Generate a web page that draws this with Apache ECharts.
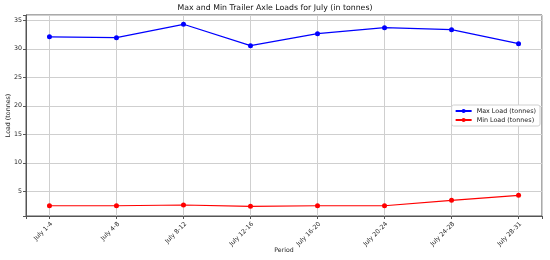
<!DOCTYPE html>
<html>
<head>
<meta charset="utf-8">
<script src="https://cdn.jsdelivr.net/npm/echarts@6/dist/echarts.min.js"></script>
<style>
  html, body { margin: 0; padding: 0; background: #fff; }
  #chart { width: 550px; height: 260px; }
</style>
</head>
<body>
<div id="chart"></div>
<script>
// periods on the x axis
const periods = ['July 1-4', 'July 4-8', 'July 8-12', 'July 12-16', 'July 16-20', 'July 20-24', 'July 24-28', 'July 28-31']
// loads in tonnes
const maxLoad = [32.1, 31.95, 34.3, 30.55, 32.65, 33.7, 33.35, 30.9]
const minLoad = [2.47, 2.47, 2.6, 2.37, 2.47, 2.47, 3.42, 4.3]
const yTicks = [5, 10, 15, 20, 25, 30, 35]

const font = 'DejaVu Sans'
const chart = echarts.init(document.getElementById('chart'))

const toPoints = arr => arr.map((v, i) => [i, v])

const option = {
  animation: false,
  textStyle: { fontFamily: font },
  title: {
    text: 'Max and Min Trailer Axle Loads for July (in tonnes)',
    left: 'center',
    top: -1,
    padding: [5, 5, 5, 23],
    textStyle: { fontSize: 7.8, fontWeight: 'normal', color: '#111', fontFamily: font }
  },
  grid: {
    left: 26, right: 8, top: 15, bottom: 44,
    outerBoundsMode: 'none',
    containLabel: false,
    show: true, borderColor: '#555', borderWidth: 1
  },
  legend: {
    orient: 'vertical',
    right: 10,
    top: 105,
    itemWidth: 16,
    itemHeight: 5,
    itemGap: 3,
    padding: [3, 4, 3, 3],
    borderColor: '#d0d0d0',
    borderWidth: 1,
    borderRadius: 2,
    backgroundColor: '#fff',
    textStyle: { fontSize: 6.4, color: '#222', fontFamily: font },
    data: ['Max Load (tonnes)', 'Min Load (tonnes)']
  },
  xAxis: {
    type: 'value',
    min: -0.35,
    max: 7.35,
    splitNumber: 8,
    name: 'Period',
    nameLocation: 'middle',
    nameGap: 31,
    nameMoveOverlap: false,
    nameTextStyle: { fontSize: 6.2, color: '#222' },
    axisLine: { show: true, onZero: false, lineStyle: { color: '#555' } },
    axisTick: {
      length: 3,
      lineStyle: { color: '#555' },
      interval: (i, v) => Number.isInteger(v)
    },
    axisLabel: {
      rotate: 45,
      fontSize: 6.2,
      color: '#222',
      margin: 5,
      verticalAlign: 'top',
      formatter: v => Number.isInteger(v) ? (periods[v] || '') : ''
    },
    splitLine: { show: true, lineStyle: { color: '#cfcfcf', width: 1 } }
  },
  yAxis: {
    type: 'value',
    min: 0.67,
    max: 35.93,
    splitNumber: 7,
    name: 'Load (tonnes)',
    nameLocation: 'middle',
    nameGap: 15,
    nameMoveOverlap: false,
    nameTextStyle: { fontSize: 6.3, color: '#222' },
    axisLine: { show: true, onZero: false, lineStyle: { color: '#555' } },
    axisTick: {
      show: true,
      length: 3,
      lineStyle: { color: '#555' },
      interval: (i, v) => yTicks.includes(v)
    },
    axisLabel: {
      fontSize: 6.3,
      color: '#222',
      margin: 4,
      formatter: v => yTicks.includes(v) ? String(v) : ''
    },
    splitLine: { show: true, lineStyle: { color: '#cfcfcf', width: 1 } }
  },
  series: [
    {
      name: 'Max Load (tonnes)',
      type: 'line',
      data: toPoints(maxLoad),
      symbol: 'circle',
      symbolSize: 5,
      color: '#0000ff',
      lineStyle: { width: 1.2 }
    },
    {
      name: 'Min Load (tonnes)',
      type: 'line',
      data: toPoints(minLoad),
      symbol: 'circle',
      symbolSize: 5,
      color: '#ff0000',
      lineStyle: { width: 1.2 }
    }
  ]
}

chart.setOption(option)
</script>
</body>
</html>
